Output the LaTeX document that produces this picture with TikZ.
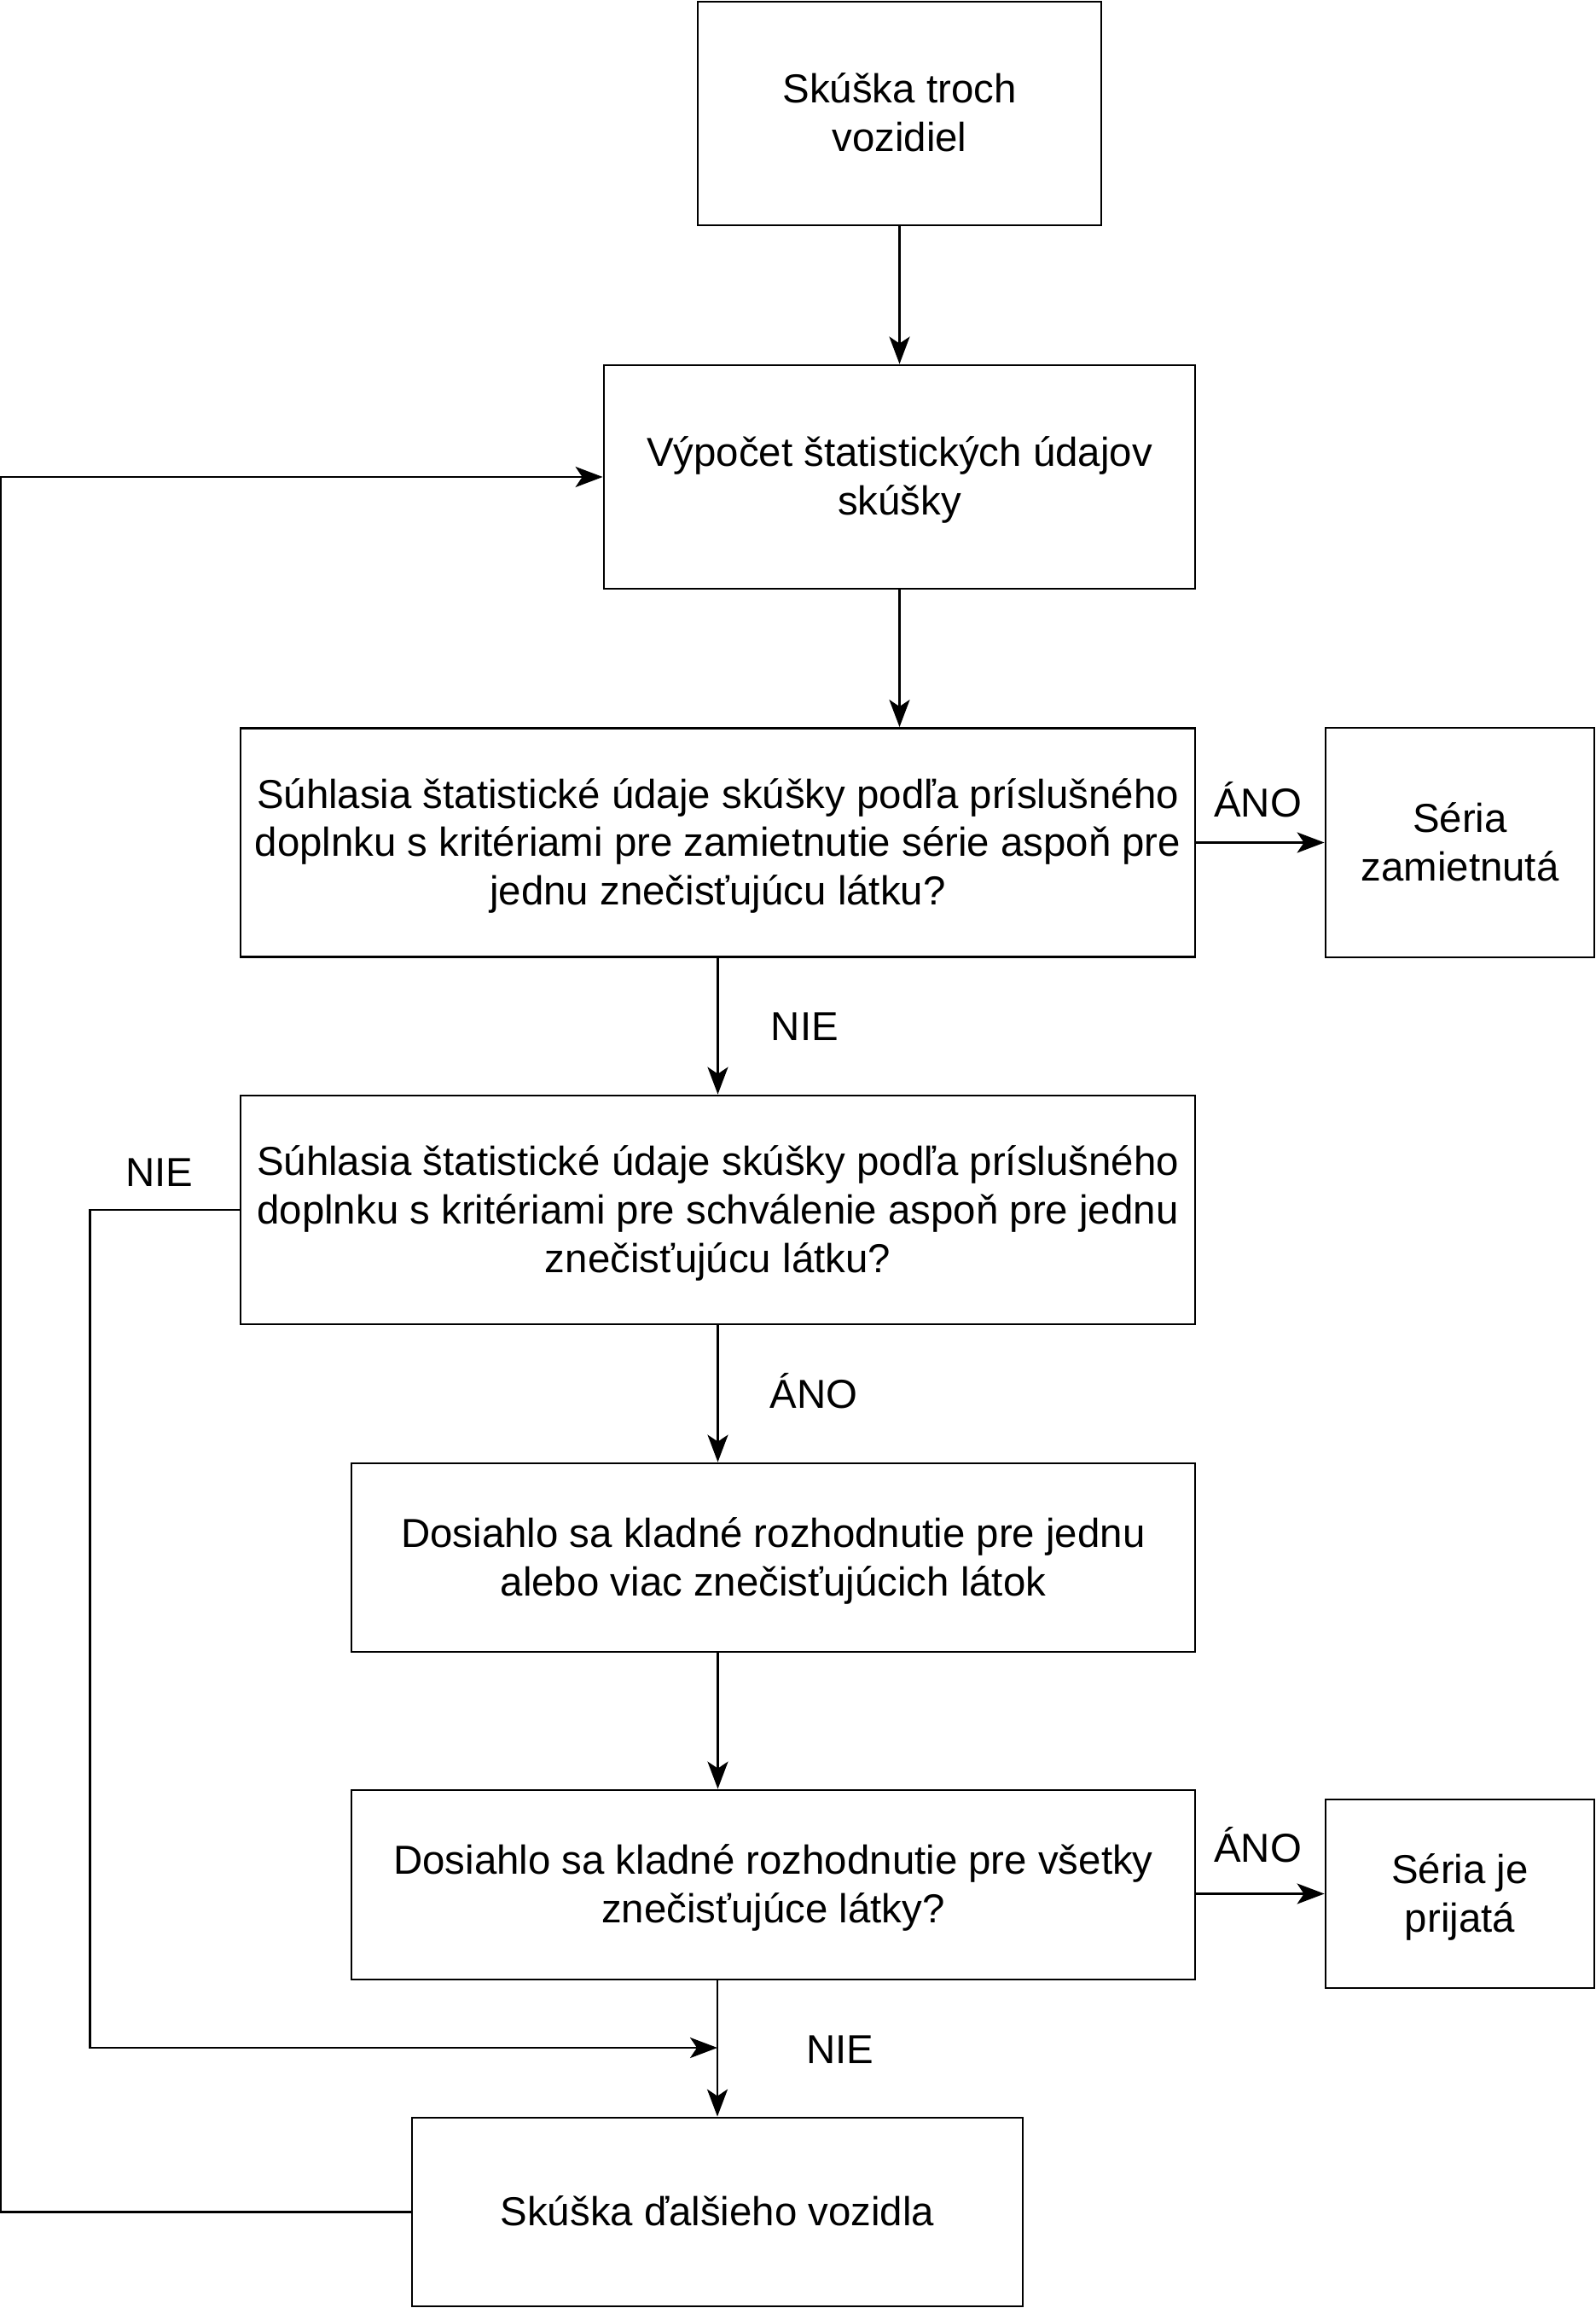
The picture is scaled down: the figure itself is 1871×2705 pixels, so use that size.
\documentclass[tikz,border=0pt]{standalone}
\usepackage{fontspec}
\setmainfont{Liberation Sans}
\usetikzlibrary{arrows.meta,positioning}

% one 1.2em line box: ascent + descent
\newcommand{\ls}{\rule[-3pt]{0pt}{14.2pt}}

\begin{document}
\begin{tikzpicture} [
        x=0.25pt, y=-0.25pt,
        every node/.style={font=\fontsize{11.85}{14.22}\selectfont},
        box/.style={draw=black, line width=0.7pt, align=center, inner sep=0pt},
        lbl/.style={inner sep=0pt, text height=8.5pt, text depth=0pt},
        ->, >={Stealth[length=8pt, width=6pt, inset=2pt]}, line width=0.7pt
    ]
    \useasboundingbox (0,0) rectangle (1871,2705);

    \node[box, minimum width=118.25pt, minimum height=65.5pt]  (start)    at (1054.5,133)  {\ls Skúška troch\\vozidiel\ls};
    \node[box, minimum width=173.25pt, minimum height=65.5pt]  (calc)     at (1054.5,559)  {\ls Výpočet štatistických údajov\\skúšky\ls};
    \node[box, minimum width=279.75pt, minimum height=67pt]    (reject)   at (841.5,987.5) {\ls Súhlasia štatistické údaje skúšky podľa príslušného\\doplnku s kritériami pre zamietnutie série aspoň pre\\jednu znečisťujúcu látku?\ls};
    \node[box, minimum width=78.75pt,  minimum height=67.25pt] (rejected) at (1711.5,987.5) {\ls Séria\\zamietnutá\ls};
    \node[box, minimum width=279.75pt, minimum height=67pt]    (approve)  at (841.5,1418)  {\ls Súhlasia štatistické údaje skúšky podľa príslušného\\doplnku s kritériami pre schválenie aspoň pre jednu\\znečisťujúcu látku?\ls};
    \node[box, minimum width=247.25pt, minimum height=55.25pt] (positive) at (906.5,1825.5) {\ls Dosiahlo sa kladné rozhodnutie pre jednu\\alebo viac znečisťujúcich látok\ls};
    \node[box, minimum width=247.25pt, minimum height=55.5pt]  (allpos)   at (906.5,2209)  {\ls Dosiahlo sa kladné rozhodnutie pre všetky\\znečisťujúce látky?\ls};
    \node[box, minimum width=78.75pt,  minimum height=55.25pt] (accepted) at (1711.5,2219.5) {\ls Séria je\\prijatá\ls};
    \node[box, minimum width=179pt,    minimum height=55.25pt] (next)     at (841,2592.5)  {\ls Skúška ďalšieho vozidla\ls};

    \coordinate (merge) at (841,2400);

    % main line
    \draw (start) -- (calc);
    \draw (calc) -- (calc.south |- reject.north);
    \draw (reject) -- node[lbl, right=15.25pt] {NIE} (approve);
    \draw (approve) -- node[lbl, right=15pt] {ÁNO} (approve.south |- positive.north);
    \draw (positive.south -| approve.south) -- (allpos.north -| approve.south);
    \draw (allpos.south -| next.north) -- node[lbl, right=25.75pt] {NIE} (next.north);

    % side exits
    \draw (reject) -- node[lbl, above=7.1pt, xshift=-0.75pt] {ÁNO} (rejected);
    \draw (allpos.east |- accepted.west) -- node[lbl, above=9pt, xshift=-0.75pt] {ÁNO} (accepted.west);

    % loops back
    \draw (approve.west) -- node[lbl, above=6.5pt, xshift=-1.5pt] {NIE} ++(-175,0) |- (merge);
    \draw (next.west) -- ++(-481,0) |- (calc.west);
\end{tikzpicture}
\end{document}
